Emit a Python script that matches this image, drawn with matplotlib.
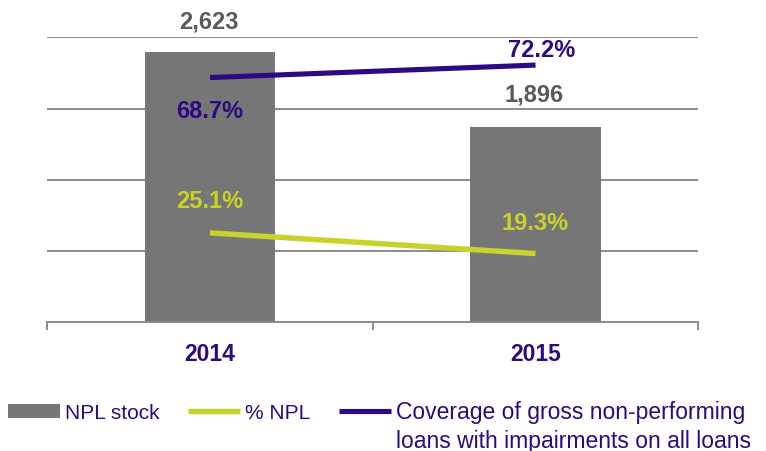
import numpy as np
import matplotlib
matplotlib.use('Agg')
import matplotlib.pyplot as plt
from matplotlib.patches import Patch
from matplotlib.lines import Line2D

# data
years = ['2014', '2015']
npl_stock = [2623, 1896]
stock_labels = ['2,623', '1,896']
npl_pct = [25.1, 19.3]
coverage_pct = [68.7, 72.2]

# colours
bar_grey = '#767676'
purple = '#2b0a82'
lime = '#c9d22a'
grid_grey = '#8c8c8c'
label_grey = '#595959'

plt.rcParams['font.family'] = ['Liberation Sans', 'DejaVu Sans']

W, H = 766, 452
fig = plt.figure(figsize=(W / 100, H / 100), dpi=100)
ax = fig.add_axes([47.3 / W, 1 - 323.3 / H, 651 / W, 285 / H])

x = np.arange(len(years))
ax.bar(x, npl_stock, width=0.4, color=bar_grey, zorder=2)
ax.set_xlim(-0.5, 1.5)
ymax = 2765
ax.set_ylim(0, ymax)
ax.set_yticks(np.linspace(0, ymax, 5))
ax.yaxis.grid(True, color=grid_grey, lw=1.4)
ax.set_axisbelow(True)
ax.tick_params(axis='y', length=0, labelleft=False)
for s in ['top', 'right', 'left']:
    ax.spines[s].set_visible(False)
ax.spines['bottom'].set_color(grid_grey)
ax.spines['bottom'].set_linewidth(1.4)

ax.set_xticks(x)
ax.set_xticklabels(years, fontsize=16.5, fontweight='bold', color=purple)
ax.set_xticks([-0.5, 0.5, 1.5], minor=True)
ax.tick_params(axis='x', which='major', length=0, pad=14)
ax.tick_params(axis='x', which='minor', length=6, width=1.4,
               color=grid_grey, direction='out')

# bar value labels
stock_offsets = [22, 24]
for xi, v, lab, off in zip(x, npl_stock, stock_labels, stock_offsets):
    ax.annotate(lab, (xi, v), xytext=(-1, off), textcoords='offset points',
                ha='center', va='center', fontsize=17, fontweight='bold',
                color=label_grey)

# percentages on a second axis (0-80%)
ax2 = ax.twinx()
ax2.set_ylim(0, 80)
ax2.axis('off')
ax2.plot(x, npl_pct, color=lime, lw=3.9, solid_capstyle='butt')
ax2.plot(x, coverage_pct, color=purple, lw=3.7, solid_capstyle='butt')

npl_offsets = [(0, 23), (0, 22)]
for xi, v, off in zip(x, npl_pct, npl_offsets):
    ax2.annotate(f'{v:.1f}%', (xi, v), xytext=off, textcoords='offset points',
                 ha='center', va='center', fontsize=17, fontweight='bold',
                 color=lime)

cov_offsets = [(0, -24), (4.5, 11)]
for xi, v, off in zip(x, coverage_pct, cov_offsets):
    ax2.annotate(f'{v:.1f}%', (xi, v), xytext=off, textcoords='offset points',
                 ha='center', va='center', fontsize=17, fontweight='bold',
                 color=purple)

# legend
handles = [Patch(facecolor=bar_grey, edgecolor='none'),
           Line2D([], [], color=lime, lw=3.9, solid_capstyle='butt'),
           Line2D([], [], color=purple, lw=3.7, solid_capstyle='butt')]
labels = ['NPL stock', '% NPL', 'Coverage of gross non-performing']
leg = fig.legend(handles, labels, loc='center left',
                 bbox_to_anchor=(8 / W, (H - 413) / H), ncol=3, frameon=False,
                 fontsize=15, labelcolor=purple, handlelength=2.5,
                 handleheight=0.65, handletextpad=0.25, columnspacing=1.35,
                 borderpad=0, borderaxespad=0)
leg.get_texts()[2].set_fontsize(16.5)

# second line of the last legend entry, lined up under the first
fig.canvas.draw()
bb = leg.get_texts()[2].get_window_extent()
fig.text(bb.x0 / W, ((bb.y0 + bb.y1) / 2 - 29) / H,
         'loans with impairments on all loans', fontsize=16.5, color=purple,
         ha='left', va='center')

fig.savefig('out.png', dpi=100)
